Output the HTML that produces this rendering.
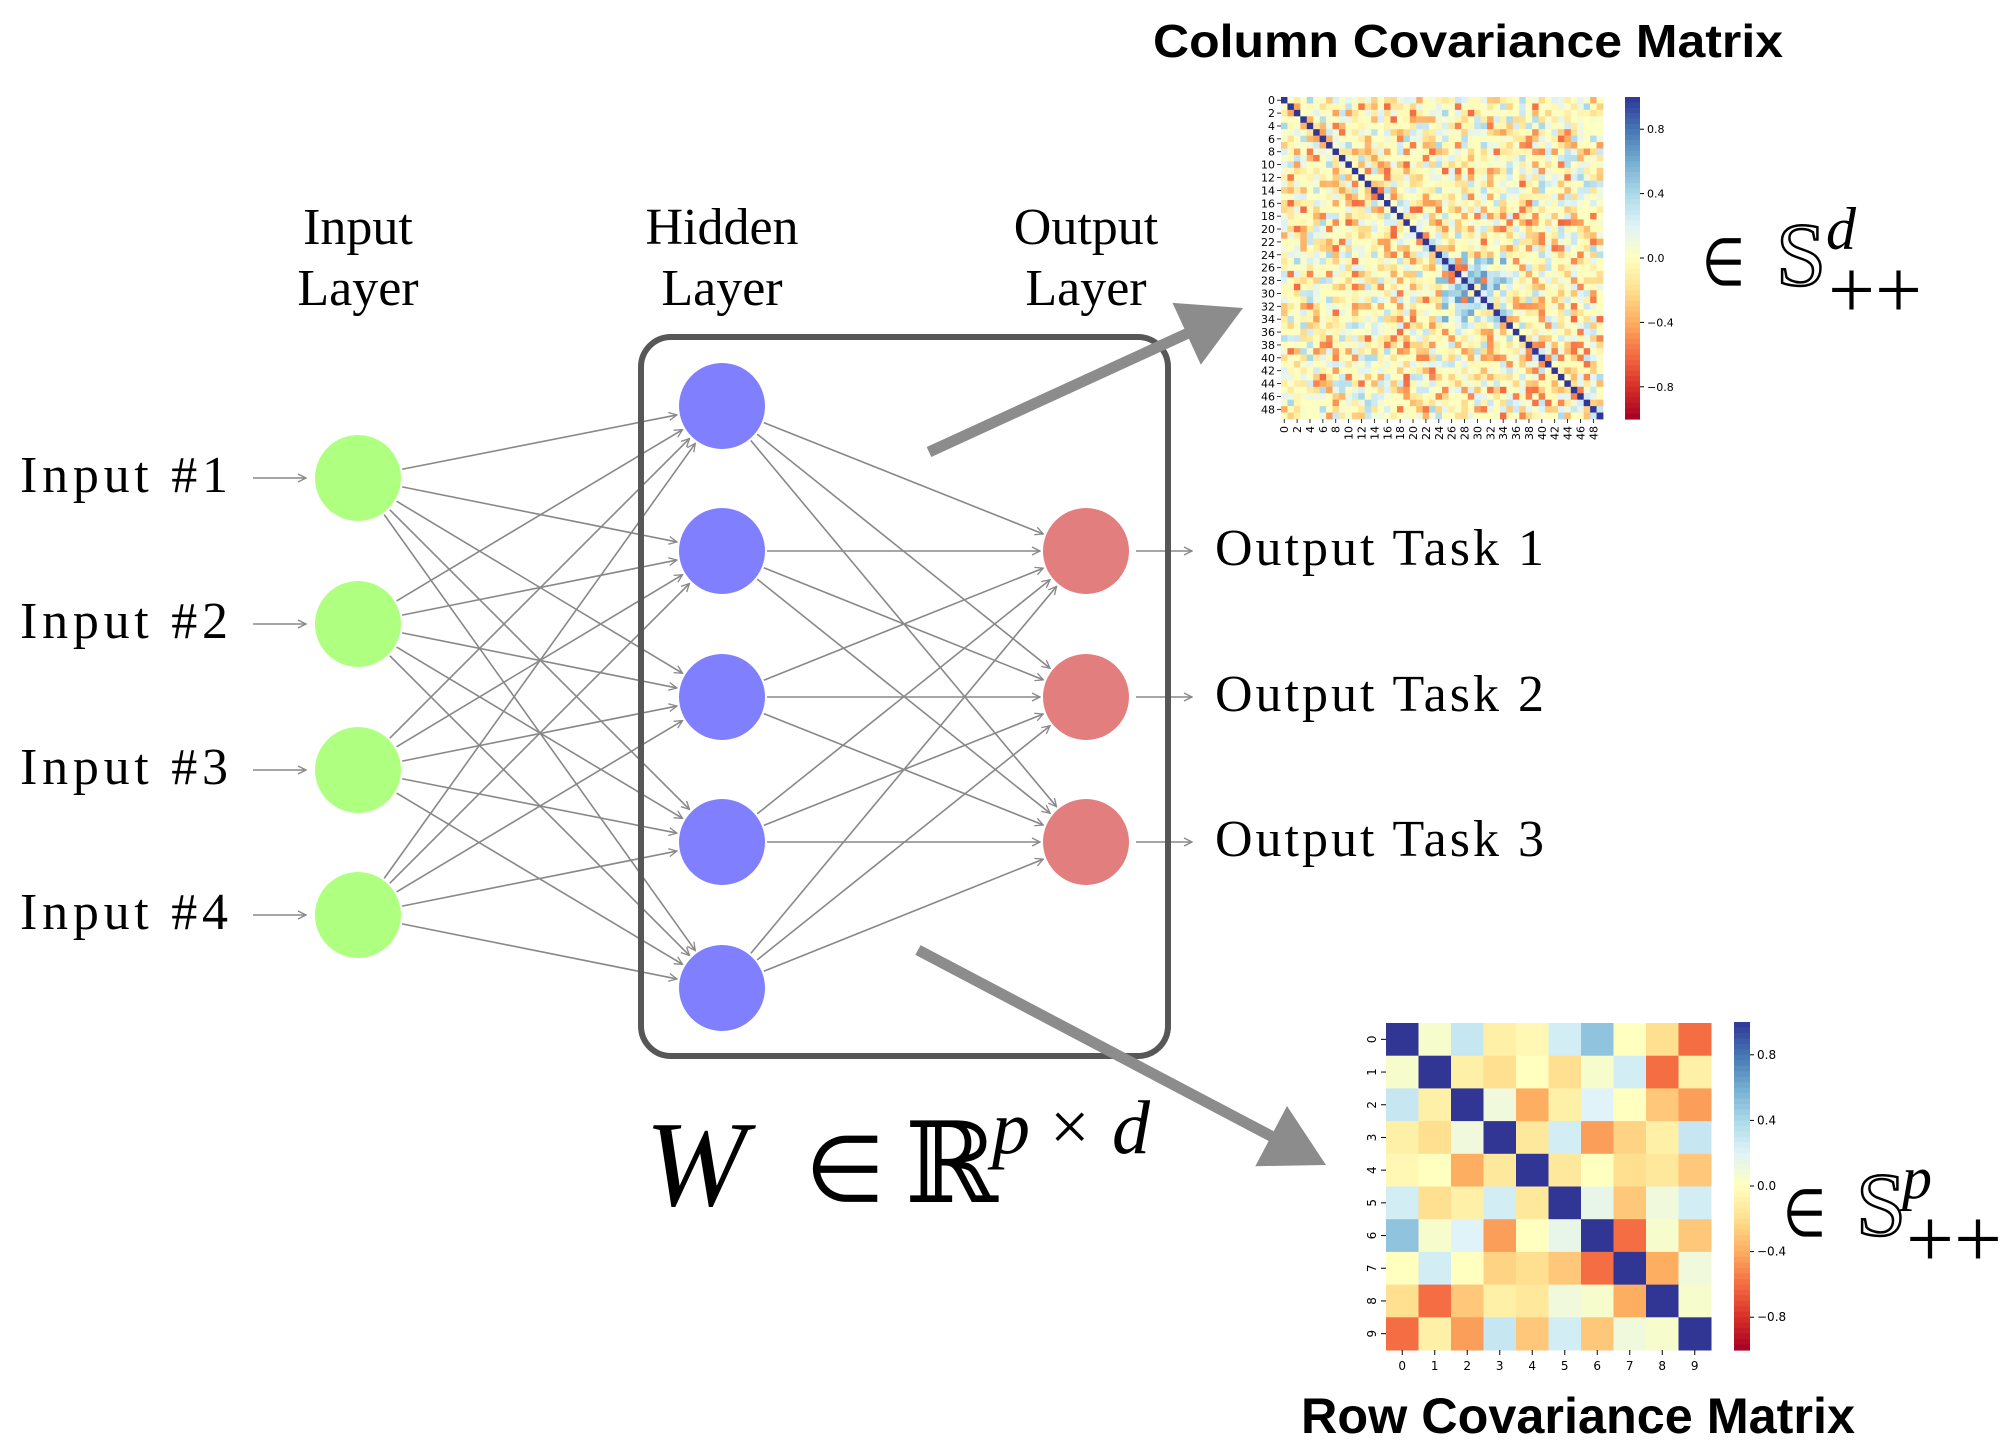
<!DOCTYPE html>
<html><head><meta charset="utf-8">
<style>
html,body{margin:0;padding:0;background:#fff;}
svg{display:block;}
</style></head>
<body>
<svg id="s" width="2006" height="1446" viewBox="0 0 2006 1446" xmlns="http://www.w3.org/2000/svg" font-family="Liberation Serif, serif">
<defs>
<marker id="ah" viewBox="0 0 10 10" refX="9" refY="5" markerWidth="10" markerHeight="10" markerUnits="userSpaceOnUse" orient="auto">
<path d="M1,1 L9,5 L1,9" fill="none" stroke="#888" stroke-width="1.3"/>
</marker>
</defs>
<g id="conn" stroke="#888" stroke-width="1.6" fill="none"></g>
<g id="nodes"></g>
<rect x="641" y="337" width="527" height="719" rx="30" fill="none" stroke="#575757" stroke-width="6"/>
<g font-size="52" text-anchor="middle" fill="#000">
<text x="358" y="244">Input</text><text x="358" y="305">Layer</text>
<text x="722" y="244">Hidden</text><text x="722" y="305">Layer</text>
<text x="1086" y="244">Output</text><text x="1086" y="305">Layer</text>
</g>
<g font-size="52" fill="#000">
<text x="20" y="492" textLength="208">Input #1</text>
<text x="20" y="638" textLength="208">Input #2</text>
<text x="20" y="784" textLength="208">Input #3</text>
<text x="20" y="929" textLength="208">Input #4</text>
<text x="1215" y="565" textLength="329">Output Task 1</text>
<text x="1215" y="711" textLength="329">Output Task 2</text>
<text x="1215" y="856" textLength="329">Output Task 3</text>
</g>
<g fill="#8c8c8c" stroke="none" id="bigarrows"></g>
<g fill="#000">
<text x="645" y="1205" font-size="122" font-style="italic">W</text>
<text x="805" y="1201" font-size="92">∈</text>
<text x="905" y="1202" font-size="112" font-family="DejaVu Serif, serif">ℝ</text>
<text x="992" y="1153" font-size="76" font-style="italic">p</text>
<text x="1050" y="1150" font-size="70">×</text>
<text x="1112" y="1153" font-size="76" font-style="italic">d</text>
</g>
<text x="1153" y="57" font-family="Liberation Sans, sans-serif" font-weight="bold" font-size="46" textLength="630" lengthAdjust="spacingAndGlyphs">Column Covariance Matrix</text>
<text x="1301" y="1433" font-family="Liberation Sans, sans-serif" font-weight="bold" font-size="50" textLength="554" lengthAdjust="spacingAndGlyphs">Row Covariance Matrix</text>
<g fill="#000">
<text x="1702" y="285" font-size="66" textLength="43" lengthAdjust="spacingAndGlyphs">∈</text>
<text x="1776" y="285" font-size="90" fill="#fff" stroke="#000" stroke-width="2.5">S</text>
<text x="1826" y="249" font-size="60" font-style="italic">d</text>
<text x="1828" y="318" font-size="84" textLength="94" lengthAdjust="spacingAndGlyphs">++</text>
<text x="1783" y="1236" font-size="66" textLength="43" lengthAdjust="spacingAndGlyphs">∈</text>
<text x="1856" y="1235" font-size="90" fill="#fff" stroke="#000" stroke-width="2.5">S</text>
<text x="1902" y="1198" font-size="60" font-style="italic">p</text>
<text x="1906" y="1267" font-size="84" textLength="96" lengthAdjust="spacingAndGlyphs">++</text>
</g>
<g id="hm1"></g>
<g id="hm2"></g>
</svg>
<script>
var NS="http://www.w3.org/2000/svg";
function el(t,a,p){var e=document.createElementNS(NS,t);for(var k in a)e.setAttribute(k,a[k]);if(p)p.appendChild(e);return e;}
var conn=document.getElementById('conn'),nodes=document.getElementById('nodes');
var inp=[478,624,770,915].map(function(y){return[358,y]});
var hid=[406,551,697,842,988].map(function(y){return[722,y]});
var out=[551,697,842].map(function(y){return[1086,y]});
var R=43;
function line(a,b){var dx=b[0]-a[0],dy=b[1]-a[1],l=Math.sqrt(dx*dx+dy*dy),ux=dx/l,uy=dy/l;
el('line',{x1:a[0]+ux*(R+2),y1:a[1]+uy*(R+2),x2:b[0]-ux*(R+3),y2:b[1]-uy*(R+3),'marker-end':'url(#ah)'},conn);}
inp.forEach(function(a){hid.forEach(function(b){line(a,b)})});
hid.forEach(function(a){out.forEach(function(b){line(a,b)})});
inp.forEach(function(a){el('line',{x1:253,y1:a[1],x2:306,y2:a[1],'marker-end':'url(#ah)'},conn)});
out.forEach(function(a){el('line',{x1:1136,y1:a[1],x2:1192,y2:a[1],'marker-end':'url(#ah)'},conn)});
inp.forEach(function(a){el('circle',{cx:a[0],cy:a[1],r:R,fill:'#afff80'},nodes)});
hid.forEach(function(a){el('circle',{cx:a[0],cy:a[1],r:R,fill:'#8080ff'},nodes)});
out.forEach(function(a){el('circle',{cx:a[0],cy:a[1],r:R,fill:'#e27e7e'},nodes)});
var ba=document.getElementById('bigarrows');
function big(x1,y1,x2,y2){var dx=x2-x1,dy=y2-y1,l=Math.sqrt(dx*dx+dy*dy),ux=dx/l,uy=dy/l,px=-uy,py=ux;
var hl=62,hw=34,sw=5.5,bx=x2-ux*hl,by=y2-uy*hl;
var pts=[[x1+px*sw,y1+py*sw],[bx+px*sw,by+py*sw],[bx+px*hw,by+py*hw],[x2,y2],[bx-px*hw,by-py*hw],[bx-px*sw,by-py*sw],[x1-px*sw,y1-py*sw]];
el('polygon',{points:pts.map(function(p){return p[0].toFixed(1)+','+p[1].toFixed(1)}).join(' ')},ba);}
big(929,452,1243,308);big(918,950,1326,1165);
var stops=[[165,0,38],[215,48,39],[244,109,67],[253,174,97],[254,224,144],[255,255,191],[224,243,248],[171,217,233],[116,173,209],[69,117,180],[49,54,149]];
function cm(v){v=Math.max(-1,Math.min(1,v));var t=(v+1)/2*10,i=Math.min(9,Math.floor(t)),f=t-i,a=stops[i],b=stops[i+1];
return 'rgb('+[0,1,2].map(function(k){return Math.round(a[k]+(b[k]-a[k])*f)}).join(',')+')';}
function colorbar(g,x,y,w,h,ticks){
 var n=60;for(var i=0;i<n;i++){el('rect',{x:x,y:y+h*i/n,width:w,height:h/n+0.6,fill:cm(1-2*(i+0.5)/n)},g);}
 ticks.forEach(function(t){var ty=y+h*(1-t[0])/2;el('line',{x1:x+w,y1:ty,x2:x+w+4,y2:ty,stroke:'#000','stroke-width':1},g);
 var tx=el('text',{x:x+w+7,y:ty+4,'font-size':t[2],'font-family':'DejaVu Sans, sans-serif'},g);tx.textContent=t[1];});
}
var g1=document.getElementById('hm1');
var seed=12345;function rnd(){seed=(seed*1103515245+12345)%2147483648;return seed/2147483648;}
var N=50,X0=1281,Y0=97,W=322,H=322,cw=W/N,ch=H/N,M=[];
for(var i=0;i<N;i++){M.push([]);}
for(var i=0;i<N;i++)for(var j=i;j<N;j++){var v;
 if(i==j)v=1;else{v=(rnd()-0.55)*1.3;v=v*Math.abs(v)*1.2;
 if(i>=24&&i<=34&&j>=24&&j<=34&&rnd()<0.5)v=0.3+rnd()*0.4;}
 M[i][j]=v;M[j][i]=v;}
for(var i=0;i<N;i++)for(var j=0;j<N;j++)el('rect',{x:(X0+j*cw).toFixed(2),y:(Y0+i*ch).toFixed(2),width:(cw+0.4).toFixed(2),height:(ch+0.4).toFixed(2),fill:cm(M[i][j])},g1);
for(var i=0;i<N;i+=2){var yy=Y0+(i+0.5)*ch;el('line',{x1:X0-4,y1:yy,x2:X0,y2:yy,stroke:'#000','stroke-width':0.8},g1);
 var t=el('text',{x:X0-6,y:yy+4,'font-size':11,'text-anchor':'end','font-family':'DejaVu Sans, sans-serif'},g1);t.textContent=i;
 var xx=X0+(i+0.5)*cw;el('line',{x1:xx,y1:Y0+H,x2:xx,y2:Y0+H+4,stroke:'#000','stroke-width':0.8},g1);
 var t2=el('text',{x:0,y:0,'font-size':11,'text-anchor':'end','font-family':'DejaVu Sans, sans-serif',transform:'translate('+(xx+4)+','+(Y0+H+7)+') rotate(-90)'},g1);t2.textContent=i;}
colorbar(g1,1625,97,15,322,[[0.8,'0.8',11],[0.4,'0.4',11],[0,'0.0',11],[-0.4,'\u22120.4',11],[-0.8,'\u22120.8',11]]);
var g2=document.getElementById('hm2');
var A=[[1,.05,.3,-.1,-.05,.25,.5,0,-.2,-.6],[.05,1,-.1,-.2,0,-.2,.05,.25,-.6,-.1],[.3,-.1,1,.1,-.4,-.1,.2,0,-.3,-.45],[-.1,-.2,.1,1,-.15,.25,-.45,-.25,-.1,.3],[-.05,0,-.4,-.15,1,-.15,0,-.2,-.15,-.3],[.25,-.2,-.1,.25,-.15,1,.15,-.3,.1,.25],[.5,.05,.2,-.45,0,.15,1,-.6,.05,-.3],[0,.25,0,-.25,-.2,-.3,-.6,1,-.4,.1],[-.2,-.6,-.3,-.1,-.15,.1,.05,-.4,1,.05],[-.6,-.1,-.45,.3,-.3,.25,-.3,.1,.05,1]];
var X1=1386,Y1=1023,W1=325,H1=327,c1=W1/10,r1=H1/10;
for(var i=0;i<10;i++)for(var j=0;j<10;j++)el('rect',{x:X1+j*c1,y:Y1+i*r1,width:c1+0.5,height:r1+0.5,fill:cm(A[i][j])},g2);
for(var i=0;i<10;i++){var yy=Y1+(i+0.5)*r1;el('line',{x1:X1-5,y1:yy,x2:X1,y2:yy,stroke:'#000','stroke-width':1},g2);
 var t=el('text',{x:0,y:0,'font-size':12,'text-anchor':'middle','font-family':'DejaVu Sans, sans-serif',transform:'translate('+(X1-10)+','+yy+') rotate(-90)'},g2);t.textContent=i;
 var xx=X1+(i+0.5)*c1;el('line',{x1:xx,y1:Y1+H1,x2:xx,y2:Y1+H1+5,stroke:'#000','stroke-width':1},g2);
 var t2=el('text',{x:xx,y:Y1+H1+20,'font-size':12,'text-anchor':'middle','font-family':'DejaVu Sans, sans-serif'},g2);t2.textContent=i;}
colorbar(g2,1734,1022,16,328,[[0.8,'0.8',12],[0.4,'0.4',12],[0,'0.0',12],[-0.4,'\u22120.4',12],[-0.8,'\u22120.8',12]]);
</script>
</body></html>
